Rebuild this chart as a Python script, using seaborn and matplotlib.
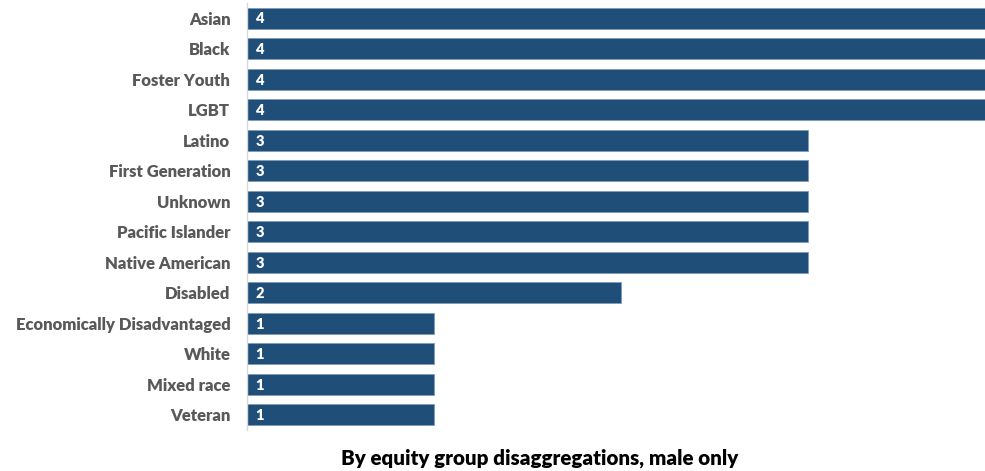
import matplotlib
matplotlib.use("Agg")
import matplotlib.pyplot as plt
import seaborn as sns
import pandas as pd

groups = ["Asian", "Black", "Foster Youth", "LGBT", "Latino", "First Generation",
          "Unknown", "Pacific Islander", "Native American", "Disabled",
          "Economically Disadvantaged", "White", "Mixed race", "Veteran"]
counts = [4, 4, 4, 4, 3, 3, 3, 3, 3, 2, 1, 1, 1, 1]
title = "By equity group disaggregations, male only"

df = pd.DataFrame({"group": groups, "count": counts})

sns.set_theme(style="white")
plt.rcParams["font.family"] = ["Lato", "DejaVu Sans"]

fig = plt.figure(figsize=(9.85, 4.71), dpi=100)
ax = fig.add_axes([0.2508, 0.087, 0.7492, 0.907])

bar_color = "#1F4E79"
sns.barplot(data=df, x="count", y="group", color=bar_color, width=0.69,
            edgecolor="#7F9BB8", linewidth=0.6, saturation=1, ax=ax)

for i, v in enumerate(counts):
    ax.text(0.045, i + 0.03, str(v), color="white", fontsize=10.5,
            fontweight="heavy", va="center", ha="left")

ax.set_xlim(0, 3.947)
ax.set_ylim(13.5, -0.5)
ax.set_xlabel("")
ax.set_ylabel("")
ax.set_xticks([])
ax.set_yticks(range(len(groups)))
ax.set_yticklabels(groups, fontsize=12, fontweight="heavy", color="#595959")
ax.tick_params(axis="y", length=0, pad=12)

for side in ["top", "right", "bottom"]:
    ax.spines[side].set_visible(False)
ax.spines["left"].set_color("#D9D9D9")
ax.spines["left"].set_linewidth(1)

fig.text(0.548, 0.028, title, ha="center", va="center", fontsize=14.8,
         fontweight="heavy", color="black")

fig.savefig("out.png", dpi=100)
